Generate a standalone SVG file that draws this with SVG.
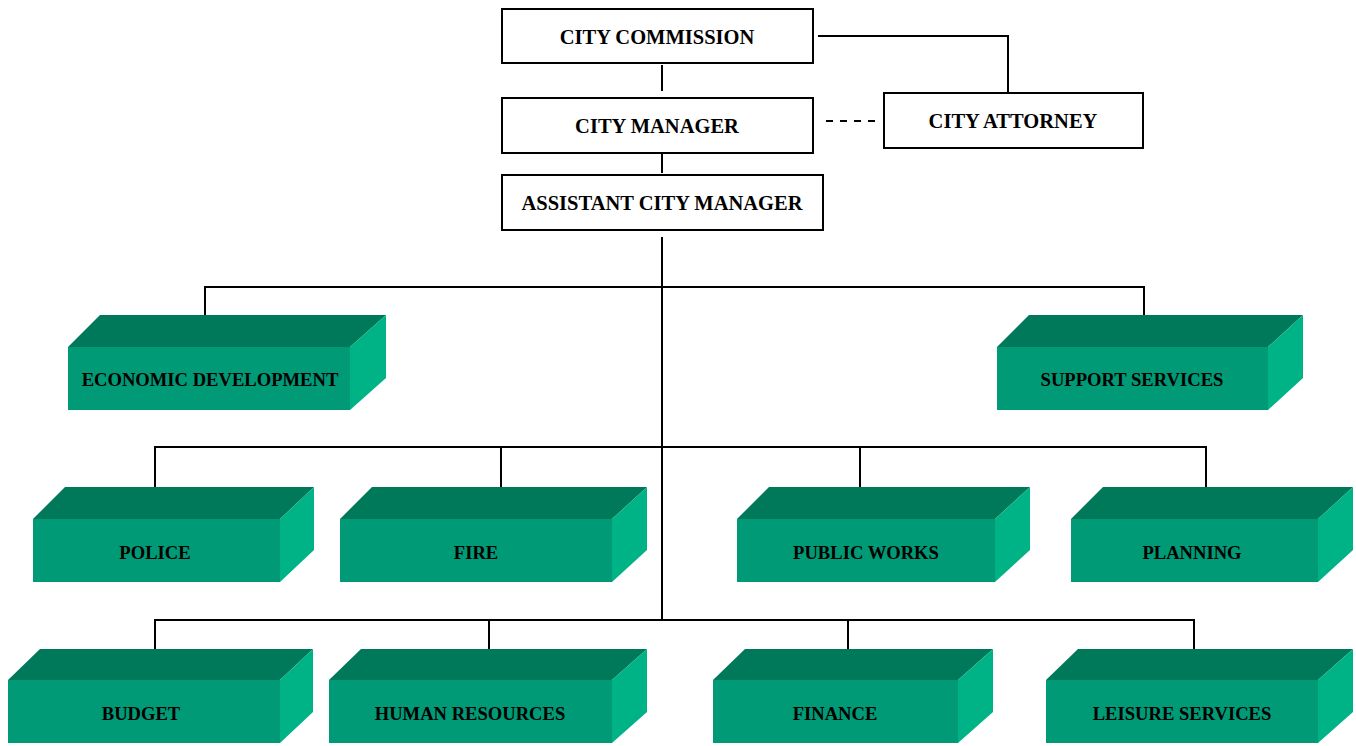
<svg xmlns="http://www.w3.org/2000/svg" width="1356" height="746" viewBox="0 0 1356 746">
<style>
.box{fill:#fff;stroke:#000;stroke-width:2}
.t{font-family:"Liberation Serif","Times New Roman",serif;font-weight:bold;font-size:18.6px;fill:#000;text-anchor:middle}
.tb{font-size:20.5px}
.top{fill:#00785a}
.front{fill:#009a76}
.side{fill:#00b387}
.ln{stroke:#000;stroke-width:2;fill:none}
</style>
<rect width="1356" height="746" fill="#fff"/>
<g id="connectors">
<path class="ln" d="M662 65V91M662 153V173M662 237V620"/>
<path class="ln" d="M818 36H1008V92"/>
<path class="ln" d="M826 121H882" stroke-dasharray="7,7"/>
<path class="ln" d="M205 322V287H1144V322"/>
<path class="ln" d="M155 495V447H1206V495M501 447V495M860 447V495"/>
<path class="ln" d="M155 657V620H1194V657M489 620V657M848 620V657"/>
</g>
<g id="city-commission"><rect class="box" x="502" y="9" width="311" height="54"/><text class="t tb" x="657" y="44">CITY COMMISSION</text></g>
<g id="city-manager"><rect class="box" x="502" y="98" width="311" height="55"/><text class="t tb" x="657" y="133">CITY MANAGER</text></g>
<g id="assistant-city-manager"><rect class="box" x="502" y="175" width="321" height="55"/><text class="t tb" x="662" y="210">ASSISTANT CITY MANAGER</text></g>
<g id="city-attorney"><rect class="box" x="884" y="93" width="259" height="55"/><text class="t tb" x="1013" y="128">CITY ATTORNEY</text></g>
<g id="economic-development">
<polygon class="top" points="68,347 100,315 386,315 350,347"/><polygon class="side" points="350,347 386,315 386,378 350,410"/><rect class="front" x="68" y="347" width="282" height="63"/>
<text class="t" x="210" y="386">ECONOMIC DEVELOPMENT</text></g>
<g id="support-services">
<polygon class="top" points="997,347 1029,315 1303,315 1268,347"/><polygon class="side" points="1268,347 1303,315 1303,378 1268,410"/><rect class="front" x="997" y="347" width="271" height="63"/>
<text class="t" x="1132" y="386">SUPPORT SERVICES</text></g>
<g id="police">
<polygon class="top" points="33,519 65,487 314,487 280,519"/><polygon class="side" points="280,519 314,487 314,550 280,582"/><rect class="front" x="33" y="519" width="247" height="63"/>
<text class="t" x="155" y="559">POLICE</text></g>
<g id="fire">
<polygon class="top" points="340,519 372,487 647,487 612,519"/><polygon class="side" points="612,519 647,487 647,550 612,582"/><rect class="front" x="340" y="519" width="272" height="63"/>
<text class="t" x="476" y="559">FIRE</text></g>
<g id="public-works">
<polygon class="top" points="737,519 769,487 1030,487 995,519"/><polygon class="side" points="995,519 1030,487 1030,550 995,582"/><rect class="front" x="737" y="519" width="258" height="63"/>
<text class="t" x="866" y="559">PUBLIC WORKS</text></g>
<g id="planning">
<polygon class="top" points="1071,519 1103,487 1353,487 1318,519"/><polygon class="side" points="1318,519 1353,487 1353,550 1318,582"/><rect class="front" x="1071" y="519" width="247" height="63"/>
<text class="t" x="1192" y="559">PLANNING</text></g>
<g id="budget">
<polygon class="top" points="8,680 40,649 313,649 280,680"/><polygon class="side" points="280,680 313,649 313,712 280,743"/><rect class="front" x="8" y="680" width="272" height="63"/>
<text class="t" x="141" y="720">BUDGET</text></g>
<g id="human-resources">
<polygon class="top" points="329,680 361,649 647,649 612,680"/><polygon class="side" points="612,680 647,649 647,712 612,743"/><rect class="front" x="329" y="680" width="283" height="63"/>
<text class="t" x="470" y="720">HUMAN RESOURCES</text></g>
<g id="finance">
<polygon class="top" points="713,680 745,649 993,649 958,680"/><polygon class="side" points="958,680 993,649 993,712 958,743"/><rect class="front" x="713" y="680" width="245" height="63"/>
<text class="t" x="835" y="720">FINANCE</text></g>
<g id="leisure-services">
<polygon class="top" points="1046,680 1078,649 1353,649 1318,680"/><polygon class="side" points="1318,680 1353,649 1353,712 1318,743"/><rect class="front" x="1046" y="680" width="272" height="63"/>
<text class="t" x="1182" y="720">LEISURE SERVICES</text></g>
</svg>
